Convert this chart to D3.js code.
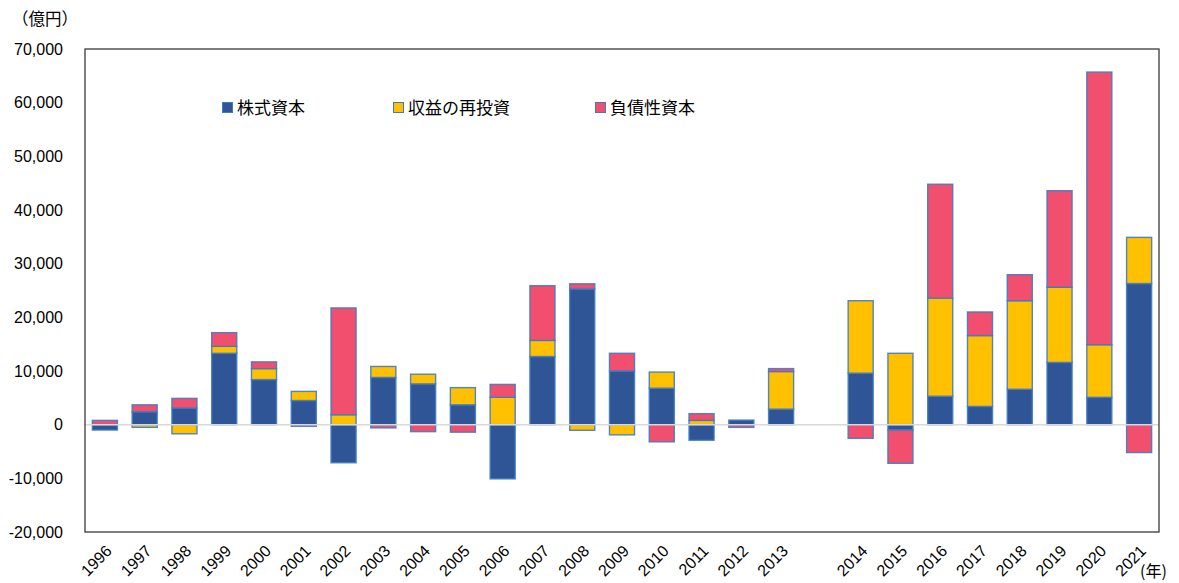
<!DOCTYPE html>
<html>
<head>
<meta charset="utf-8">
<script src="https://cdn.jsdelivr.net/npm/d3@7/dist/d3.min.js"></script>
<style>
  html, body { margin: 0; padding: 0; background: #fff; }
  svg { display: block; }
  text { font-family: "Liberation Sans", "Noto Sans CJK JP", sans-serif; fill: #000; }
  .jp { font-family: "Noto Sans CJK JP", sans-serif; }
</style>
</head>
<body>
<svg id="chart" width="1179" height="583"></svg>
<script>
// ---- data ----
const years = ["1996","1997","1998","1999","2000","2001","2002","2003","2004","2005","2006","2007","2008","2009","2010","2011","2012","2013","2014","2015","2016","2017","2018","2019","2020","2021"];
const gapAfter = "2013";
const seriesNames = ["株式資本", "収益の再投資", "負債性資本"];
const equity   = [-1000, 2400, 3100, 13300, 8400, 4500, -7100, 8800, 7600, 3700, -10100, 12700, 25300, 10000, 6800, -2900, 850, 2900, 9600, -1000, 5300, 3400, 6600, 11600, 5100, 26300];
const reinvest = [0, -500, -1700, 1300, 2050, 1700, 1850, 2050, 1800, 3200, 5100, 3000, -1050, -1900, 3000, 800, 0, 7000, 13500, 13300, 18300, 13200, 16500, 14000, 9800, 8600];
const debt     = [800, 1300, 1800, 2550, 1250, -300, 19900, -600, -1300, -1400, 2400, 10200, 950, 3300, -3200, 1250, -500, 550, -2550, -6200, 21200, 4400, 4850, 18000, 50800, -5200];
const yTicks = [-20000, -10000, 0, 10000, 20000, 30000, 40000, 50000, 60000, 70000];
const colors = ["#2f5597", "#ffc000", "#f24f6e"];
const unitLabel = "（億円）";
const xUnitLabel = "(年)";

// ---- layout ----
const svg = d3.select("#chart");
const L = 85, R = 1159, T = 49, B = 532;

const domain = [];
years.forEach(y => { domain.push(y); if (y === gapAfter) domain.push("__gap__"); });

const x = d3.scaleBand().domain(domain).range([L, R]).paddingInner(0.37).paddingOuter(0.185);
const y = d3.scaleLinear().domain([-20000, 70000]).range([B, T]);

const table = years.map((yr, i) => ({ year: yr, s0: equity[i], s1: reinvest[i], s2: debt[i] }));
const stack = d3.stack().keys(["s0", "s1", "s2"]).offset(d3.stackOffsetDiverging);
const layers = stack(table);

// bars
const g = svg.append("g");
layers.forEach((layer, li) => {
  g.selectAll(null).data(layer).enter().append("rect")
    .attr("x", d => x(d.data.year))
    .attr("width", x.bandwidth())
    .attr("y", d => y(Math.max(d[0], d[1])))
    .attr("height", d => Math.abs(y(d[0]) - y(d[1])))
    .attr("fill", colors[li])
    .attr("stroke", "#3d7cc4")
    .attr("stroke-width", 1.4)
    .attr("stroke-opacity", 0.9);
});

// zero line
svg.append("line")
  .attr("x1", L).attr("x2", R)
  .attr("y1", y(0)).attr("y2", y(0))
  .attr("stroke", "#d9d9d9").attr("stroke-width", 1.5);

// frame
svg.append("rect")
  .attr("x", L).attr("y", T).attr("width", R - L).attr("height", B - T)
  .attr("fill", "none").attr("stroke", "#3a3a3a").attr("stroke-width", 1.3);

// y axis labels
const fmt = d3.format(",");
const yAxis = d3.axisLeft(y).tickValues(yTicks).tickSize(0).tickPadding(22)
  .tickFormat(d => fmt(d).replace("\u2212", "-"));
const ya = svg.append("g").attr("transform", `translate(${L},0)`).call(yAxis);
ya.select(".domain").remove();
ya.selectAll("text").style("font-family", "'Liberation Sans', sans-serif").style("font-size", "16px").attr("fill", "#000");

// x axis labels
const xAxis = d3.axisBottom(x).tickValues(years).tickSize(0).tickPadding(0);
const xa = svg.append("g").attr("transform", `translate(0,${B})`).call(xAxis);
xa.select(".domain").remove();
xa.selectAll("text")
  .style("font-family", "'Liberation Sans', sans-serif")
  .style("font-size", "16px")
  .attr("fill", "#000")
  .attr("text-anchor", "end")
  .attr("dy", "0.35em")
  .attr("y", 0)
  .attr("transform", "translate(4,16) rotate(-45)");

// unit labels
svg.append("text").attr("class", "jp").attr("x", 12).attr("y", 25)
  .style("font-size", "16.5px").text(unitLabel);
svg.append("text").attr("class", "jp").attr("x", 1140).attr("y", 577)
  .style("font-size", "16px").text(xUnitLabel);

// legend
const legendX = [222, 393, 595];
seriesNames.forEach((name, i) => {
  const lg = svg.append("g").attr("transform", `translate(${legendX[i]},102)`);
  lg.append("rect").attr("x", 0.5).attr("y", 0.5).attr("width", 10).attr("height", 10)
    .attr("fill", colors[i]).attr("stroke", "#3d7cc4").attr("stroke-width", 1);
  lg.append("text").attr("class", "jp").attr("x", 15).attr("y", 5.5).attr("dy", "0.36em")
    .style("font-size", "17px").text(name);
});
</script>
</body>
</html>
